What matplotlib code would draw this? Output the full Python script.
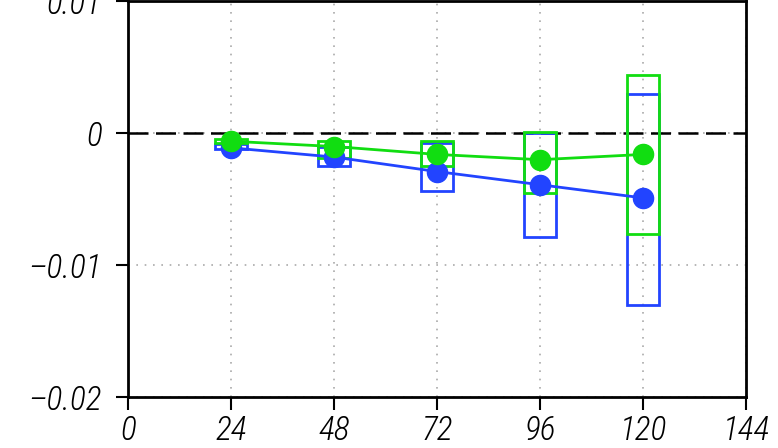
import numpy as np
import matplotlib.pyplot as plt
from matplotlib.patches import Rectangle

plt.rcParams['font.family'] = ['Roboto Condensed', 'DejaVu Sans']

# forecast lead times (h)
leads = [24, 48, 72, 96, 120]

# mean error, blue run
blue_mean = [-0.0011, -0.0018, -0.0029, -0.0039, -0.0049]
blue_lo = [-0.0012, -0.0025, -0.0044, -0.0079, -0.0130]
blue_hi = [-0.0008, -0.0010, -0.0007, 0.0000, 0.0030]

# mean error, green run
green_mean = [-0.0006, -0.0010, -0.0016, -0.0020, -0.0016]
green_lo = [-0.0007, -0.0019, -0.0025, -0.0045, -0.0076]
green_hi = [-0.0004, -0.0006, -0.0006, 0.0001, 0.0044]

xticks = [0, 24, 48, 72, 96, 120, 144]
yticks = [-0.02, -0.01, 0, 0.01]
ylabels = ['\u20130.02', '\u20130.01', '0', '0.01']

blue = '#2244ff'
green = '#11dd11'
box_w = 7.4

fig = plt.figure(figsize=(7.78, 4.48), dpi=100)
ax = fig.add_axes([0.1645, 0.1138, 0.7945, 0.8829])

ax.grid(True, color='#aaaaaa', linestyle=(0, (1, 4)), linewidth=1.2)
ax.axhline(0, color='black', linestyle=(0, (8, 3)), linewidth=1.8, zorder=2)

for x, lo, hi in zip(leads, blue_lo, blue_hi):
    ax.add_patch(Rectangle((x - box_w / 2, lo), box_w, hi - lo, fill=False,
                           edgecolor=blue, linewidth=2, zorder=3))
for x, lo, hi in zip(leads, green_lo, green_hi):
    ax.add_patch(Rectangle((x - box_w / 2, lo), box_w, hi - lo, fill=False,
                           edgecolor=green, linewidth=2, zorder=4))

ax.plot(leads, blue_mean, color=blue, linewidth=2, marker='o',
        markersize=14.5, zorder=5)
ax.plot(leads, green_mean, color=green, linewidth=2, marker='o',
        markersize=14.5, zorder=6)

ax.set_xlim(0, 144)
ax.set_ylim(-0.02, 0.01)
ax.set_xticks(xticks)
ax.set_xticklabels([str(t) for t in xticks])
ax.set_yticks(yticks)
ax.set_yticklabels(ylabels)
ax.tick_params(direction='out', length=9, width=1.5, labelsize=24)
ax.tick_params(axis='x', pad=4)
ax.tick_params(axis='y', pad=10)
for lab in ax.get_xticklabels() + ax.get_yticklabels():
    lab.set_fontstyle('italic')
    lab.set_fontweight(300)
for s in ax.spines.values():
    s.set_linewidth(2)

fig.savefig('out.png', dpi=100)
